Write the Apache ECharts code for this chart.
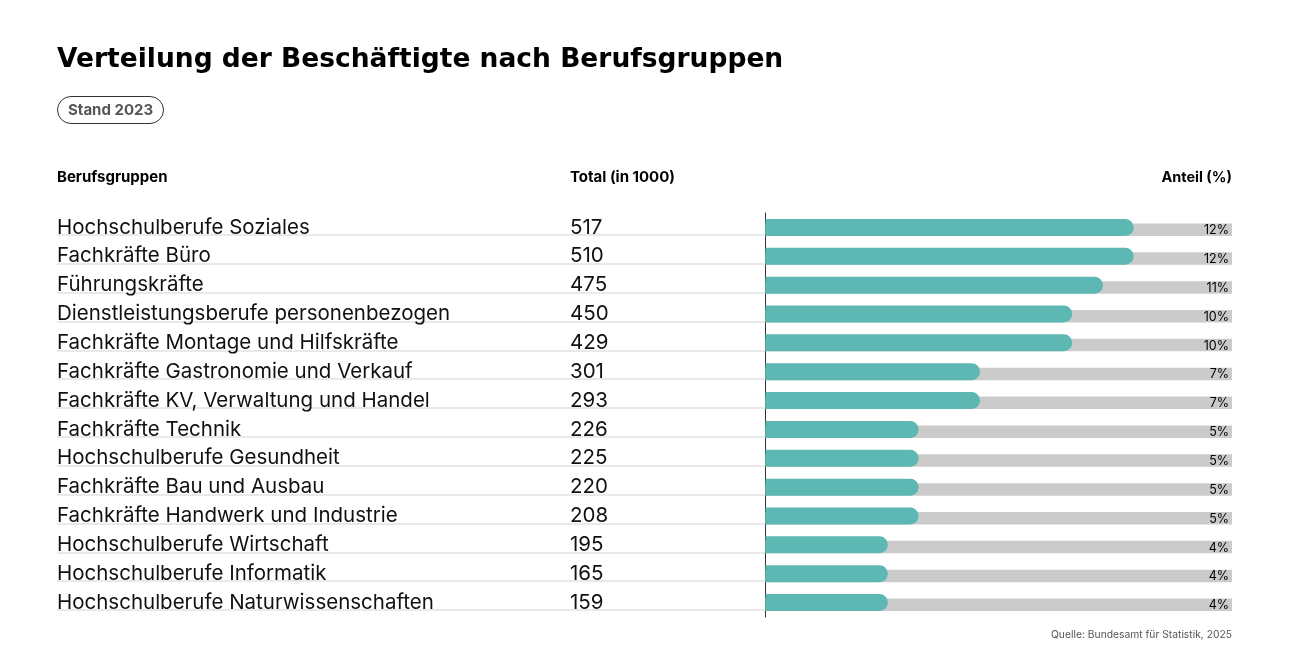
<!DOCTYPE html>
<html>
<head>
<meta charset="utf-8">
<script src="https://cdn.jsdelivr.net/npm/echarts@6/dist/echarts.min.js"></script>
<style>
  html, body { margin: 0; padding: 0; background: #fff; }
  #chart { width: 1289px; height: 667px; }
</style>
</head>
<body>
<div id="chart"></div>
<script>
// Berufsgruppen, Total (in 1000) und Anteil (%)
var categories = [
  'Hochschulberufe Soziales',
  'Fachkräfte Büro',
  'Führungskräfte',
  'Dienstleistungsberufe personenbezogen',
  'Fachkräfte Montage und Hilfskräfte',
  'Fachkräfte Gastronomie und Verkauf',
  'Fachkräfte KV, Verwaltung und Handel',
  'Fachkräfte Technik',
  'Hochschulberufe Gesundheit',
  'Fachkräfte Bau und Ausbau',
  'Fachkräfte Handwerk und Industrie',
  'Hochschulberufe Wirtschaft',
  'Hochschulberufe Informatik',
  'Hochschulberufe Naturwissenschaften'
];
var totals = [517, 510, 475, 450, 429, 301, 293, 226, 225, 220, 208, 195, 165, 159];
var shares = [12, 12, 11, 10, 10, 7, 7, 5, 5, 5, 5, 4, 4, 4];
var shareMax = 15.2;

var font = 'Inter, "Noto Sans", sans-serif';
var chart = echarts.init(document.getElementById('chart'));

var option = {
  backgroundColor: '#fff',
  animation: false,
  title: [
    {
      text: 'Verteilung der Beschäftigte nach Berufsgruppen',
      left: 57, top: 47, padding: 0,
      textStyle: { fontFamily: '"DejaVu Sans", sans-serif', fontSize: 26.5, fontWeight: 700, color: '#000' }
    },
    {
      text: 'Stand 2023',
      left: 57, top: 96, padding: [7, 11, 6, 11],
      borderColor: '#333', borderWidth: 1, borderRadius: 14,
      textStyle: { fontFamily: font, fontSize: 15, fontWeight: 700, color: '#555' }
    },
    {
      text: 'Berufsgruppen',
      left: 57, top: 170, padding: 0,
      textStyle: { fontFamily: font, fontSize: 15, fontWeight: 700, color: '#000' }
    },
    {
      text: 'Total (in 1000)',
      left: 570, top: 170, padding: 0,
      textStyle: { fontFamily: font, fontSize: 15, fontWeight: 700, color: '#000' }
    },
    {
      text: 'Anteil (%)',
      right: 57, top: 170, padding: 0,
      textStyle: { fontFamily: font, fontSize: 14.5, fontWeight: 700, color: '#000' }
    },
    {
      text: 'Quelle: Bundesamt für Statistik, 2025',
      right: 57, top: 630, padding: 0,
      textStyle: { fontFamily: font, fontSize: 10.3, fontWeight: 400, color: '#555' }
    }
  ],
  grid: [
    { left: 765, right: 57, top: 213, bottom: 50, outerBoundsMode: 'none', containLabel: false },
    { left: 57, right: 524, top: 235, bottom: 57, outerBoundsMode: 'none', containLabel: false }
  ],
  xAxis: [
    { gridIndex: 0, type: 'value', min: 0, max: shareMax, show: false },
    { gridIndex: 1, type: 'value', min: 0, max: 1, show: false }
  ],
  yAxis: [
    {
      gridIndex: 0, type: 'category', position: 'left', inverse: true, data: categories,
      axisLine: { show: true, lineStyle: { color: '#333', width: 1 } },
      axisTick: { show: false },
      axisLabel: {
        align: 'left', margin: 708, padding: [0, 0, 4, 0],
        fontFamily: font, fontSize: 20.5, color: '#111'
      }
    },
    {
      gridIndex: 0, type: 'category', position: 'left', offset: 0, inverse: true, data: categories,
      axisLine: { show: false }, axisTick: { show: false },
      axisLabel: {
        align: 'left', margin: 195, padding: [0, 0, 4, 0],
        fontFamily: font, fontSize: 20.5, color: '#111',
        formatter: function (v, i) { return String(totals[i]); }
      }
    },
    {
      gridIndex: 1, type: 'value', inverse: true, min: 0, max: categories.length - 1, interval: 1,
      axisLine: { show: false }, axisTick: { show: false }, axisLabel: { show: false },
      splitLine: { show: true, lineStyle: { color: '#e2e2e2', width: 1.5 } }
    }
  ],
  series: [
    {
      type: 'custom',
      xAxisIndex: 0, yAxisIndex: 0,
      data: shares.map(function (v, i) { return [v, i]; }),
      encode: { x: 0, y: 1 },
      renderItem: function (params, api) {
        var cat = api.value(1);
        var end = api.coord([api.value(0), cat]);
        var start = api.coord([0, cat]);
        var full = api.coord([shareMax, cat]);
        var cy = end[1];
        var barH = 17, bgH = 12.5;
        return {
          type: 'group',
          children: [
            {
              type: 'rect',
              shape: { x: start[0] + 0.5, y: cy + barH / 2 - bgH, width: full[0] - start[0] - 0.5, height: bgH },
              style: { fill: '#cbcbcb' }
            },
            {
              type: 'rect',
              shape: { x: start[0] + 0.5, y: cy - barH / 2, width: end[0] - start[0] - 0.5, height: barH, r: [0, barH / 2, barH / 2, 0] },
              style: { fill: '#5db8b3' }
            },
            {
              type: 'text',
              style: {
                text: api.value(0) + '%', x: full[0] - 3, y: cy + 3,
                align: 'right', verticalAlign: 'middle',
                font: '12.5px ' + font, fill: '#000'
              }
            }
          ]
        };
      }
    }
  ]
};

chart.setOption(option);
</script>
</body>
</html>
